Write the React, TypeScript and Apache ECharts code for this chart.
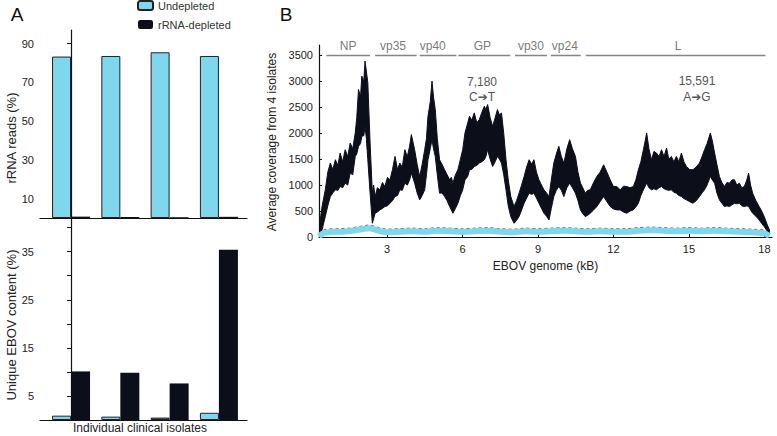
import React, { useEffect, useRef } from "react";
import * as echarts from "echarts";

// ---- Panel A data ----
const isolateIdx = [0, 1, 2, 3];
const rrnaUndepleted = [83.3, 83.6, 85.5, 83.6];
const rrnaDepleted = [0.7, 0.5, 0.4, 0.6];
const ebovUndepleted = [0.9, 0.7, 0.5, 1.5];
const ebovDepleted = [10.1, 9.8, 7.6, 35.4];
const rrnaTicks = [10, 20, 30, 40, 50, 60, 70, 80, 90];
const rrnaLabels = [10, 30, 50, 70, 90];
const ebovTicks = [5, 10, 15, 20, 25, 30, 35, 40];
const ebovLabels = [5, 15, 25, 35];

// ---- Panel B data ----
const genomeTicks = [3, 6, 9, 12, 15, 18];
const coverageTicks = [0, 500, 1000, 1500, 2000, 2500, 3000, 3500];
const genes = ["NP", "vp35", "vp40", "GP", "vp30", "vp24", "L"];
const geneStart = [0.59, 2.53, 4.3, 5.84, 8.09, 9.51, 10.9];
const geneEnd = [2.33, 4.18, 5.76, 7.9, 9.36, 10.7, 18.04];
const geneLabelPos = [1.46, 3.24, 4.82, 6.79, 8.72, 10.07, 14.57];

const covKb = [
  0.3, 0.42, 0.55, 0.65, 0.75, 0.85, 0.95, 1.05, 1.14, 1.24, 1.34, 1.44, 1.54, 1.64, 1.74, 1.8, 1.87, 1.95, 2.0, 2.08,
  2.13, 2.18, 2.24, 2.33, 2.42, 2.47, 2.53, 2.62, 2.72, 2.82, 2.92, 3.02, 3.12, 3.22, 3.32, 3.42, 3.51, 3.61, 3.71, 3.81,
  3.9, 3.97, 4.1, 4.2, 4.3, 4.4, 4.5, 4.57, 4.63, 4.72, 4.79, 4.85, 4.92, 5.0, 5.09, 5.19, 5.29, 5.39, 5.49, 5.56,
  5.62, 5.72, 5.82, 5.92, 6.01, 6.1, 6.21, 6.28, 6.37, 6.47, 6.57, 6.67, 6.77, 6.87, 6.93, 7.0, 7.1, 7.2, 7.3, 7.39,
  7.47, 7.55, 7.64, 7.73, 7.82, 7.92, 8.05, 8.15, 8.25, 8.35, 8.45, 8.55, 8.65, 8.75, 8.84, 8.94, 9.04, 9.14, 9.24, 9.34,
  9.44, 9.53, 9.63, 9.73, 9.83, 9.93, 10.03, 10.15, 10.26, 10.37, 10.49, 10.59, 10.69, 10.78, 10.88, 10.98, 11.08, 11.21, 11.34, 11.47,
  11.61, 11.74, 11.87, 12.0, 12.13, 12.27, 12.4, 12.53, 12.66, 12.79, 12.89, 12.99, 13.09, 13.19, 13.26, 13.32, 13.41, 13.51, 13.61, 13.71,
  13.81, 13.91, 14.01, 14.11, 14.2, 14.3, 14.4, 14.5, 14.6, 14.7, 14.8, 14.9, 15.03, 15.16, 15.29, 15.42, 15.52, 15.62, 15.72, 15.85,
  15.93, 16.02, 16.11, 16.21, 16.31, 16.41, 16.51, 16.61, 16.71, 16.81, 16.9, 17.0, 17.1, 17.2, 17.3, 17.37, 17.45, 17.53, 17.66, 17.79,
  17.89, 17.99, 18.1, 18.2,
];
const covUpper = [
  150, 586, 909, 1250, 1425, 1300, 1489, 1380, 1618, 1450, 1682, 1550, 1812, 1700, 2005, 2300, 2843, 2700, 3100, 3000,
  3390, 3200, 2972, 1812, 845, 1000, 780, 950, 909, 1050, 973, 1150, 1102, 1300, 1553, 1300, 1425, 1350, 1682, 1550,
  1750, 1973, 1682, 1400, 1166, 1400, 1682, 1900, 2327, 2600, 3004, 2700, 2456, 1900, 1489, 1400, 1296, 1200, 1102, 1150,
  1038, 1200, 1296, 1500, 1682, 2005, 2199, 2327, 2250, 2392, 2200, 2263, 2400, 2520, 2450, 2553, 2300, 2133, 2300, 2456,
  2350, 2392, 2000, 1489, 1100, 780, 586, 700, 845, 1000, 1166, 1350, 1489, 1400, 1489, 1250, 1102, 1000, 909, 850,
  780, 1100, 1425, 1600, 1747, 1550, 1425, 1700, 1876, 1700, 1553, 1250, 1038, 950, 845, 900, 909, 1050, 1166, 1250,
  1392, 1250, 1102, 973, 973, 909, 980, 973, 950, 973, 1100, 1296, 1450, 1682, 1850, 2005, 1700, 1489, 1650, 1618,
  1550, 1682, 1550, 1715, 1500, 1553, 1450, 1553, 1450, 1618, 1450, 1360, 1300, 1296, 1350, 1425, 1550, 1682, 1800, 2005,
  1850, 1618, 1400, 1166, 1050, 973, 1050, 1038, 1100, 1102, 1000, 1038, 950, 973, 1100, 1232, 1000, 845, 700, 586,
  500, 393, 250, 135,
];
const covLower = [
  0, 135, 393, 600, 780, 850, 909, 900, 973, 950, 1038, 1000, 1232, 1200, 1553, 1600, 1747, 1800, 1940, 1950,
  2133, 1900, 1489, 845, 265, 350, 458, 480, 522, 550, 586, 600, 651, 700, 780, 800, 909, 900, 1038, 1000,
  1100, 1232, 1038, 850, 716, 800, 909, 1200, 1489, 1700, 1876, 1700, 1553, 1200, 845, 850, 780, 700, 586, 520,
  458, 550, 651, 800, 909, 1100, 1166, 1296, 1300, 1360, 1380, 1425, 1450, 1489, 1550, 1682, 1500, 1360, 1450, 1553,
  1500, 1425, 1200, 909, 600, 393, 265, 320, 393, 520, 651, 750, 845, 820, 845, 750, 651, 550, 458, 400,
  329, 550, 780, 900, 973, 900, 780, 950, 1038, 950, 845, 700, 522, 450, 393, 420, 458, 520, 586, 680,
  780, 680, 586, 540, 522, 522, 480, 458, 500, 522, 580, 651, 800, 909, 980, 1038, 950, 909, 930, 909,
  950, 973, 930, 909, 900, 909, 860, 845, 800, 780, 740, 716, 680, 651, 700, 780, 850, 909, 1000, 1166,
  1100, 1038, 850, 716, 650, 586, 600, 586, 620, 651, 640, 651, 600, 586, 600, 586, 520, 458, 400, 329,
  260, 200, 120, 40,
];
const undepKb = [0.3, 0.5, 1, 1.5, 2, 2.3, 2.6, 3, 3.5, 4, 4.5, 5, 5.5, 6, 6.5, 7, 7.5, 8, 8.5, 9, 9.5, 10, 10.5, 11, 11.5, 12, 12.5, 13, 13.5, 14, 14.5, 15, 15.5, 16, 16.5, 17, 17.5, 18, 18.2];
const undepCov = [10, 80, 100, 110, 150, 170, 130, 90, 100, 110, 100, 120, 110, 100, 110, 120, 100, 90, 110, 100, 110, 120, 110, 100, 110, 100, 100, 120, 130, 120, 110, 120, 110, 120, 110, 100, 90, 70, 20];
const undepEdge = [60, 140, 160, 170, 210, 230, 190, 150, 160, 170, 160, 180, 170, 160, 170, 180, 160, 150, 170, 160, 170, 180, 170, 160, 170, 160, 160, 180, 190, 180, 170, 180, 170, 180, 170, 160, 150, 130, 60];

const FONT = "'Liberation Sans', Arial, Helvetica, sans-serif";
const ARROW_FONT = "'Liberation Sans', 'DejaVu Sans', sans-serif";
const CYAN = "#7fd7ee";
const BLACK = "#0c0e1a";

export default function App() {
  const ref = useRef<HTMLDivElement>(null);
  useEffect(() => {
    if (!ref.current) return;
    const chart = echarts.init(ref.current, null, { renderer: "svg" });

    const geneLine: any[] = [];
    genes.forEach((_, i) => {
      geneLine.push([geneStart[i], 3500]);
      geneLine.push([geneEnd[i], 3500]);
      geneLine.push([geneEnd[i] + 0.05, "-"]);
    });

    const axisLabelA = { fontSize: 11, color: "#222", fontFamily: FONT, margin: 6 };
    const plain = (v: number) => String(v);

    const option: any = {
      animation: false,
      backgroundColor: "#fff",
      textStyle: { fontFamily: FONT },
      legend: {
        data: ["Undepleted", "rRNA-depleted"],
        orient: "vertical",
        left: 137,
        top: 0,
        padding: 0,
        itemWidth: 15,
        itemHeight: 9,
        itemGap: 8,
        textStyle: { fontSize: 11, color: "#333", fontFamily: FONT },
      },
      grid: [
        { left: 40, right: 530, top: 30, bottom: 218 },
        { left: 40, right: 530, top: 218, bottom: 16 },
        { left: 319, right: 5, top: 45, bottom: 199 },
      ],
      xAxis: [
        {
          gridIndex: 0, type: "value", min: -0.63, max: 3.57,
          axisLine: { lineStyle: { color: "#111", width: 1.2 } },
          axisTick: { show: false }, axisLabel: { show: false }, splitLine: { show: false },
        },
        {
          gridIndex: 1, type: "value", min: -0.63, max: 3.57,
          axisLine: { lineStyle: { color: "#111", width: 1.2 } },
          axisTick: { show: false }, axisLabel: { show: false }, splitLine: { show: false },
        },
        {
          gridIndex: 2, type: "value", min: 0.3, max: 18.3,
          axisLine: { lineStyle: { color: "#111", width: 1.2 } },
          axisTick: { inside: true, length: 3, customValues: genomeTicks, lineStyle: { color: "#111" } },
          axisLabel: { customValues: genomeTicks, formatter: plain, fontSize: 11, color: "#222", fontFamily: FONT, margin: 6 },
          splitLine: { show: false },
          name: "EBOV genome (kB)", nameLocation: "middle", nameGap: 23,
          nameTextStyle: { fontSize: 12, color: "#222", fontFamily: FONT },
        },
      ],
      yAxis: [
        {
          gridIndex: 0, type: "value", min: 0, max: 97,
          axisLine: { show: true, lineStyle: { color: "#111", width: 1.2 } },
          axisTick: { show: true, length: 4, customValues: rrnaTicks, lineStyle: { color: "#111" } },
          axisLabel: { ...axisLabelA, customValues: rrnaLabels, formatter: plain },
          splitLine: { show: false },
        },
        {
          gridIndex: 1, type: "value", min: 0, max: 42,
          axisLine: { show: true, lineStyle: { color: "#111", width: 1.2 } },
          axisTick: { show: true, length: 4, customValues: ebovTicks, lineStyle: { color: "#111" } },
          axisLabel: { ...axisLabelA, customValues: ebovLabels, formatter: plain },
          splitLine: { show: false },
        },
        {
          gridIndex: 2, type: "value", min: 0, max: 3700,
          axisLine: { show: true, lineStyle: { color: "#111", width: 1.2 } },
          axisTick: { show: true, inside: true, length: 3, customValues: coverageTicks, lineStyle: { color: "#111" } },
          axisLabel: { customValues: coverageTicks, formatter: plain, fontSize: 11, color: "#222", fontFamily: FONT, margin: 6 },
          splitLine: { show: false },
        },
      ],
      series: [
        {
          name: "Undepleted", type: "bar", xAxisIndex: 0, yAxisIndex: 0,
          barWidth: 19, barGap: "0%",
          itemStyle: { color: CYAN, borderColor: "#222", borderWidth: 1 },
          data: isolateIdx.map((x, i) => [x, rrnaUndepleted[i]]),
        },
        {
          name: "rRNA-depleted", type: "bar", xAxisIndex: 0, yAxisIndex: 0,
          barWidth: 19, barGap: "0%",
          itemStyle: { color: BLACK },
          data: isolateIdx.map((x, i) => [x, rrnaDepleted[i]]),
        },
        {
          name: "Undepleted", type: "bar", xAxisIndex: 1, yAxisIndex: 1,
          barWidth: 19, barGap: "0%",
          itemStyle: { color: CYAN, borderColor: "#222", borderWidth: 1 },
          data: isolateIdx.map((x, i) =>
            i === 2
              ? { value: [x, ebovUndepleted[i]], itemStyle: { color: "#3b7a82" } }
              : [x, ebovUndepleted[i]]
          ),
        },
        {
          name: "rRNA-depleted", type: "bar", xAxisIndex: 1, yAxisIndex: 1,
          barWidth: 19, barGap: "0%",
          itemStyle: { color: BLACK },
          data: isolateIdx.map((x, i) => [x, ebovDepleted[i]]),
        },
        {
          name: "coverageBand", type: "custom", xAxisIndex: 2, yAxisIndex: 2,
          clip: true,
          data: covKb.map((x, i) => [x, covUpper[i], covLower[i]]),
          encode: { x: 0, y: [1, 2] },
          renderItem: (params: any, api: any) => {
            if (params.dataIndex !== 0) return null;
            const pts: number[][] = [];
            for (let i = 0; i < covKb.length; i++) pts.push(api.coord([covKb[i], covUpper[i]]));
            for (let i = covKb.length - 1; i >= 0; i--) pts.push(api.coord([covKb[i], covLower[i]]));
            return {
              type: "polygon",
              shape: { points: pts },
              style: { fill: BLACK, stroke: BLACK, lineWidth: 1, lineJoin: "miter" },
            };
          },
        },
        {
          name: "undepEdge", type: "line", xAxisIndex: 2, yAxisIndex: 2,
          symbol: "none", smooth: 0.3,
          lineStyle: { width: 1, color: "#555", type: [3, 3] },
          data: undepKb.map((x, i) => [x, undepEdge[i]]),
        },
        {
          name: "undepCov", type: "line", xAxisIndex: 2, yAxisIndex: 2,
          symbol: "none", smooth: 0.3,
          lineStyle: { width: 6, color: CYAN },
          data: undepKb.map((x, i) => [x, undepCov[i]]),
        },
        {
          name: "genes", type: "line", xAxisIndex: 2, yAxisIndex: 2,
          symbol: "none", connectNulls: false,
          lineStyle: { width: 1.5, color: "#858585" },
          data: geneLine,
        },
        {
          name: "geneLabels", type: "scatter", xAxisIndex: 2, yAxisIndex: 2,
          symbolSize: 0,
          label: {
            show: true, position: "top", distance: 3, formatter: "{b}",
            fontSize: 12, color: "#555", fontFamily: FONT,
          },
          data: genes.map((g, i) => ({ name: g, value: [geneLabelPos[i], 3500] })),
        },
      ],
      graphic: [
        { type: "text", x: 17, y: 14, style: { text: "A", fontSize: 19, fill: "#111", fontFamily: FONT, align: "center", verticalAlign: "middle" } },
        { type: "text", x: 286, y: 14, style: { text: "B", fontSize: 19, fill: "#111", fontFamily: FONT, align: "center", verticalAlign: "middle" } },
        { type: "text", x: 11, y: 138, rotation: Math.PI / 2, style: { text: "rRNA reads (%)", fontSize: 13, fill: "#222", fontFamily: FONT, align: "center", verticalAlign: "middle" } },
        { type: "text", x: 11, y: 325, rotation: Math.PI / 2, style: { text: "Unique EBOV content (%)", fontSize: 13, fill: "#222", fontFamily: FONT, align: "center", verticalAlign: "middle" } },
        { type: "text", x: 140, y: 428, style: { text: "Individual clinical isolates", fontSize: 12, fill: "#222", fontFamily: FONT, align: "center", verticalAlign: "middle" } },
        { type: "text", x: 272, y: 142, rotation: Math.PI / 2, style: { text: "Average coverage from 4 isolates", fontSize: 12, fill: "#222", fontFamily: FONT, align: "center", verticalAlign: "middle" } },
        { type: "text", x: 482, y: 82, style: { text: "7,180", fontSize: 12, fill: "#555", fontFamily: FONT, align: "center", verticalAlign: "middle" } },
        { type: "text", x: 482, y: 97, style: { text: "C\u2794T", fontSize: 12, fill: "#555", fontFamily: ARROW_FONT, align: "center", verticalAlign: "middle" } },
        { type: "text", x: 697, y: 81, style: { text: "15,591", fontSize: 12, fill: "#555", fontFamily: FONT, align: "center", verticalAlign: "middle" } },
        { type: "text", x: 697, y: 97, style: { text: "A\u2794G", fontSize: 12, fill: "#555", fontFamily: ARROW_FONT, align: "center", verticalAlign: "middle" } },
      ],
    };
    chart.setOption(option);
    return () => chart.dispose();
  }, []);
  return <div ref={ref} style={{ width: 777, height: 436, position: "absolute", left: 0, top: 0 }} />;
}
